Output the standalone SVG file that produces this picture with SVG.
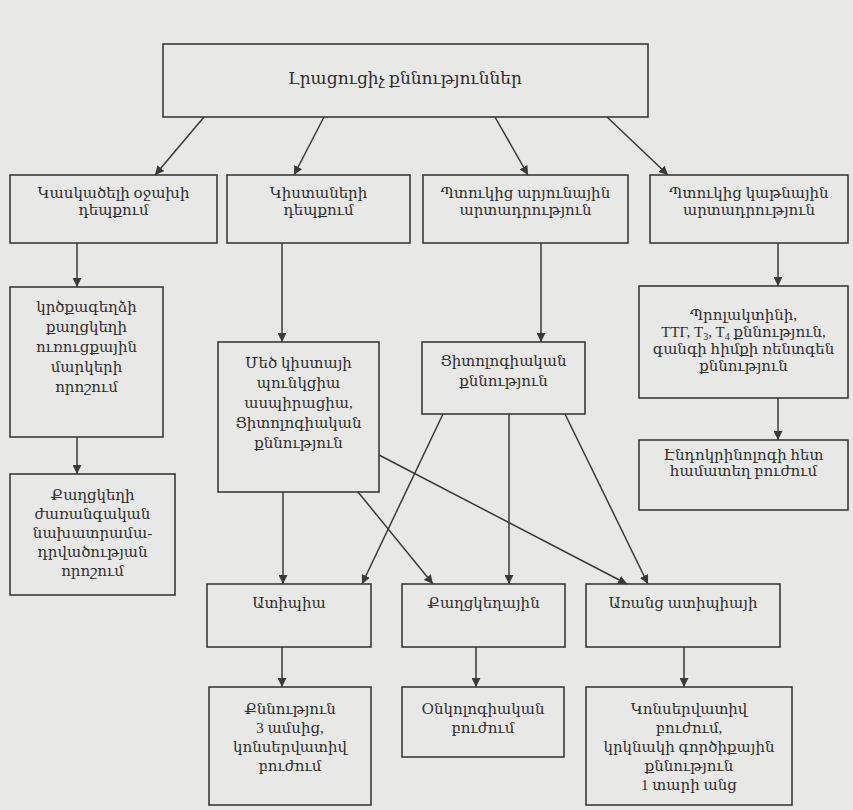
<svg xmlns="http://www.w3.org/2000/svg" width="853" height="810" viewBox="0 0 853 810">
<defs>
<style>
.box{fill:none;stroke:#3a3a3a;stroke-width:1.6}
.t{font-family:"Liberation Serif","DejaVu Serif",serif;font-size:15px;fill:#2e2e2e;text-anchor:middle}
.c{stroke:#3a3a3a;stroke-width:1.5;fill:none}
</style>
<marker id="ah" viewBox="0 0 10 10" refX="10" refY="5" markerWidth="9" markerHeight="9" markerUnits="userSpaceOnUse" orient="auto">
<path d="M0,0 L10,5 L0,10 z" fill="#3a3a3a"/>
</marker>
</defs>
<rect width="853" height="810" fill="#e8e8e6"/>
<g id="connectors">
<line class="c" x1="204" y1="117" x2="155" y2="175" marker-end="url(#ah)"/>
<line class="c" x1="324" y1="117" x2="294" y2="175" marker-end="url(#ah)"/>
<line class="c" x1="495" y1="117" x2="528" y2="175" marker-end="url(#ah)"/>
<line class="c" x1="607" y1="117" x2="668" y2="175" marker-end="url(#ah)"/>
<line class="c" x1="77" y1="243" x2="77" y2="287" marker-end="url(#ah)"/>
<line class="c" x1="282" y1="243" x2="282" y2="342" marker-end="url(#ah)"/>
<line class="c" x1="541" y1="243" x2="541" y2="342" marker-end="url(#ah)"/>
<line class="c" x1="778" y1="243" x2="778" y2="286" marker-end="url(#ah)"/>
<line class="c" x1="77" y1="437" x2="77" y2="474" marker-end="url(#ah)"/>
<line class="c" x1="778" y1="398" x2="778" y2="440" marker-end="url(#ah)"/>
<line class="c" x1="283" y1="492" x2="283" y2="584" marker-end="url(#ah)"/>
<line class="c" x1="358" y1="492" x2="433" y2="584" marker-end="url(#ah)"/>
<line class="c" x1="379" y1="455" x2="627" y2="584" marker-end="url(#ah)"/>
<line class="c" x1="443" y1="414" x2="362" y2="584" marker-end="url(#ah)"/>
<line class="c" x1="509" y1="414" x2="509" y2="584" marker-end="url(#ah)"/>
<line class="c" x1="565" y1="414" x2="648" y2="584" marker-end="url(#ah)"/>
<line class="c" x1="282" y1="647" x2="282" y2="687" marker-end="url(#ah)"/>
<line class="c" x1="476" y1="647" x2="476" y2="687" marker-end="url(#ah)"/>
<line class="c" x1="684" y1="647" x2="684" y2="687" marker-end="url(#ah)"/>
</g>
<g id="n-top">
<rect class="box" x="163" y="44" width="485" height="73"/>
<text class="t" x="405" y="84" style="font-size:17px">Լրացուցիչ քննություններ</text>
</g>
<g id="n-a">
<rect class="box" x="10" y="175" width="207" height="68"/>
<text class="t" x="113.5" y="198">Կասկածելի օջախի</text>
<text class="t" x="113.5" y="215">դեպքում</text>
</g>
<g id="n-b">
<rect class="box" x="227" y="175" width="183" height="68"/>
<text class="t" x="318.5" y="198">Կիստաների</text>
<text class="t" x="318.5" y="215">դեպքում</text>
</g>
<g id="n-c">
<rect class="box" x="423" y="175" width="205" height="68"/>
<text class="t" x="525.5" y="198">Պտուկից արյունային</text>
<text class="t" x="525.5" y="215">արտադրություն</text>
</g>
<g id="n-d">
<rect class="box" x="650" y="175" width="198" height="68"/>
<text class="t" x="749" y="198">Պտուկից կաթնային</text>
<text class="t" x="749" y="215">արտադրություն</text>
</g>
<g id="n-markers">
<rect class="box" x="10" y="287" width="153" height="150"/>
<text class="t" x="86.5" y="312">կրծքագեղձի</text>
<text class="t" x="86.5" y="332">քաղցկեղի</text>
<text class="t" x="86.5" y="352">ուռուցքային</text>
<text class="t" x="86.5" y="372">մարկերի</text>
<text class="t" x="86.5" y="392">որոշում</text>
</g>
<g id="n-hered">
<rect class="box" x="10" y="474" width="165" height="121"/>
<text class="t" x="92.5" y="500">Քաղցկեղի</text>
<text class="t" x="92.5" y="519">ժառանգական</text>
<text class="t" x="92.5" y="538">նախատրամա-</text>
<text class="t" x="92.5" y="557">դրվածության</text>
<text class="t" x="92.5" y="576">որոշում</text>
</g>
<g id="n-cyst">
<rect class="box" x="218" y="342" width="161" height="150"/>
<text class="t" x="298.5" y="368">Մեծ կիստայի</text>
<text class="t" x="298.5" y="388">պունկցիա</text>
<text class="t" x="298.5" y="408">ասպիրացիա,</text>
<text class="t" x="298.5" y="428">Ցիտոլոգիական</text>
<text class="t" x="298.5" y="448">քննություն</text>
</g>
<g id="n-cyto">
<rect class="box" x="422" y="342" width="163" height="72"/>
<text class="t" x="503.5" y="366">Ցիտոլոգիական</text>
<text class="t" x="503.5" y="386">քննություն</text>
</g>
<g id="n-prl">
<rect class="box" x="639" y="286" width="209" height="112"/>
<text class="t" x="743.5" y="320">Պրոլակտինի,</text>
<text class="t" x="743.5" y="337">ТТГ, T<tspan style="font-size:10px" dy="3">3</tspan><tspan dy="-3">, T</tspan><tspan style="font-size:10px" dy="3">4</tspan><tspan dy="-3"> քննություն,</tspan></text>
<text class="t" x="743.5" y="354">գանգի հիմքի ռենտգեն</text>
<text class="t" x="743.5" y="371">քննություն</text>
</g>
<g id="n-endo">
<rect class="box" x="639" y="440" width="209" height="70"/>
<text class="t" x="743.5" y="460">Էնդոկրինոլոգի հետ</text>
<text class="t" x="743.5" y="476">համատեղ բուժում</text>
</g>
<g id="n-atyp">
<rect class="box" x="207" y="584" width="164" height="63"/>
<text class="t" x="289" y="608">Ատիպիա</text>
</g>
<g id="n-canc">
<rect class="box" x="402" y="584" width="163" height="63"/>
<text class="t" x="483.5" y="608">Քաղցկեղային</text>
</g>
<g id="n-noatyp">
<rect class="box" x="586" y="584" width="194" height="63"/>
<text class="t" x="683" y="608">Առանց ատիպիայի</text>
</g>
<g id="n-exam">
<rect class="box" x="209" y="687" width="162" height="118"/>
<text class="t" x="290" y="714">Քննություն</text>
<text class="t" x="290" y="733">3 ամսից,</text>
<text class="t" x="290" y="752">կոնսերվատիվ</text>
<text class="t" x="290" y="771">բուժում</text>
</g>
<g id="n-onco">
<rect class="box" x="402" y="687" width="162" height="70"/>
<text class="t" x="483" y="714">Օնկոլոգիական</text>
<text class="t" x="483" y="733">բուժում</text>
</g>
<g id="n-cons">
<rect class="box" x="586" y="687" width="206" height="118"/>
<text class="t" x="689" y="714">Կոնսերվատիվ</text>
<text class="t" x="689" y="733">բուժում,</text>
<text class="t" x="689" y="752">կրկնակի գործիքային</text>
<text class="t" x="689" y="771">քննություն</text>
<text class="t" x="689" y="790">1 տարի անց</text>
</g>
</svg>
